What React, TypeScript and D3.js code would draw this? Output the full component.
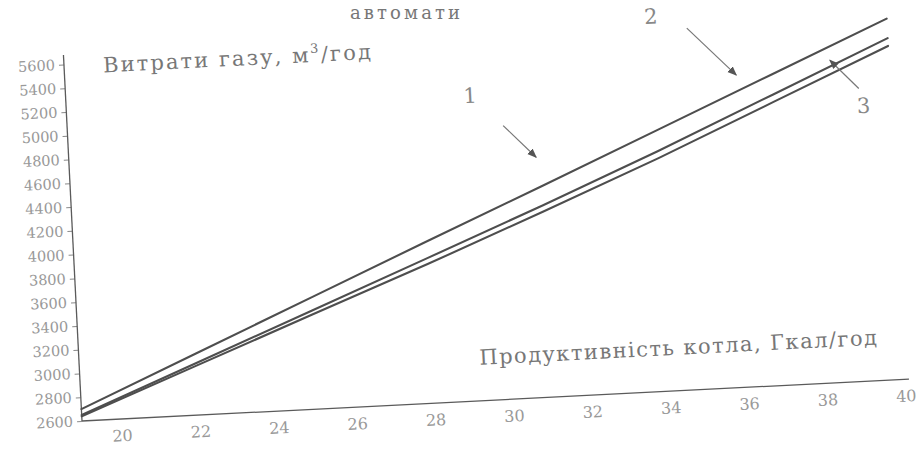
import React, { useEffect, useRef } from 'react';
import * as d3 from 'd3';

// boiler output, Gcal/h
const capacity = [19, 22, 25, 28, 31, 34, 37, 40];
// gas flow, m3/h (three curves top to bottom)
const gasUpper = [2700, 3120, 3540, 3960, 4375, 4795, 5215, 5635];
const gasMiddle = [2650, 3040, 3430, 3820, 4213, 4619, 5045, 5471];
const gasLower = [2640, 3018, 3396, 3770, 4160, 4559, 4982, 5405];

const xTicks = [20, 22, 24, 26, 28, 30, 32, 34, 36, 38, 40];
const yTicks = [2600, 2800, 3000, 3200, 3400, 3600, 3800, 4000, 4200, 4400, 4600, 4800, 5000, 5200, 5400, 5600];

// numbered callouts with arrows, in data units
const calloutNames = ['1', '2', '3'];
const calloutLabelX = [29.3, 34.0, 39.3];
const calloutLabelY = [5150, 5740, 4900];
const calloutFromX = [30.1, 34.9, 39.2];
const calloutFromY = [4900, 5640, 5060];
const calloutToX = [30.9, 36.1, 38.5];
const calloutToY = [4620, 5225, 5310];

const topCaption = 'автомати';
const yTitle = 'Витрати газу, м';
const xTitle = 'Продуктивність котла, Гкал/год';

const FONT = "'DejaVu Serif', 'Liberation Serif', serif";

const GasChart = () => {
    const svgRef = useRef<SVGSVGElement>(null);

    useEffect(() => {
        if (!svgRef.current) return;
        const svg = d3.select(svgRef.current);
        svg.selectAll('*').remove();

        const width = 920;
        const height = 451;
        const plotW = 824;
        const plotH = 357;

        svg.append('rect').attr('width', width).attr('height', height).attr('fill', '#fff');

        // the scanned sheet is a little tilted
        const g = svg.append('g').attr('transform', 'translate(82, 421) rotate(-2.9)');

        const x = d3.scaleLinear().domain([19, 40]).range([0, plotW]);
        const y = d3.scaleLinear().domain([2600, 5600]).range([0, -plotH]);

        const ink = '#5a5a5a';
        const faint = '#8a8a8a';

        // axes
        const yAxis = g.append('g')
            .call(d3.axisLeft(y).tickValues(yTicks).tickSize(5).tickSizeOuter(0).tickPadding(4).tickFormat(d3.format('d')));
        yAxis.select('.domain').remove();
        yAxis.selectAll('line').attr('stroke', faint).attr('stroke-width', 1);
        yAxis.selectAll('text')
            .attr('fill', '#999')
            .attr('font-family', FONT)
            .attr('font-size', '14.5px');

        g.append('line')
            .attr('x1', 0).attr('x2', 0)
            .attr('y1', y(2600)).attr('y2', y(5680))
            .attr('stroke', ink).attr('stroke-width', 1.3);

        const xAxis = g.append('g')
            .call(d3.axisBottom(x).tickValues(xTicks).tickSize(0).tickPadding(11));
        xAxis.select('.domain').remove();
        xAxis.selectAll('text')
            .attr('fill', '#999')
            .attr('font-family', FONT)
            .attr('font-size', '16px');

        g.append('line')
            .attr('x1', 0).attr('x2', x(40) + 4)
            .attr('y1', 0).attr('y2', 0)
            .attr('stroke', ink).attr('stroke-width', 1.3);

        // curves
        const line = d3.line<number>()
            .x((_, i) => x(capacity[i]))
            .y(d => y(d));

        [gasUpper, gasMiddle, gasLower].forEach(series => {
            g.append('path')
                .attr('d', line(series))
                .attr('fill', 'none')
                .attr('stroke', '#4e4e4e')
                .attr('stroke-width', 2.1)
                .attr('stroke-linecap', 'round');
        });

        // titles
        const yt = g.append('text')
            .attr('x', 39)
            .attr('y', -347)
            .attr('fill', '#777')
            .attr('font-family', FONT)
            .attr('font-size', '21px')
            .attr('textLength', 268)
            .attr('lengthAdjust', 'spacing')
            .text(yTitle);
        yt.append('tspan').attr('font-size', '13px').attr('dy', -9).text('3');
        yt.append('tspan').attr('dy', 9).text('/год');

        g.append('text')
            .attr('x', x(40) - 424)
            .attr('y', -36)
            .attr('fill', '#777')
            .attr('font-family', FONT)
            .attr('font-size', '21px')
            .attr('textLength', 398)
            .attr('lengthAdjust', 'spacing')
            .text(xTitle);

        svg.append('text')
            .attr('x', 350)
            .attr('y', 19)
            .attr('fill', '#777')
            .attr('font-family', FONT)
            .attr('font-size', '18px')
            .attr('textLength', 110)
            .attr('lengthAdjust', 'spacing')
            .text(topCaption);

        // callouts
        const defs = svg.append('defs');
        defs.append('marker')
            .attr('id', 'head')
            .attr('viewBox', '0 0 10 10')
            .attr('refX', 9).attr('refY', 5)
            .attr('markerWidth', 8).attr('markerHeight', 8)
            .attr('orient', 'auto')
            .append('path')
            .attr('d', 'M0,1 L10,5 L0,9 Z')
            .attr('fill', '#555');

        calloutNames.forEach((name, i) => {
            g.append('line')
                .attr('x1', x(calloutFromX[i])).attr('y1', y(calloutFromY[i]))
                .attr('x2', x(calloutToX[i])).attr('y2', y(calloutToY[i]))
                .attr('stroke', '#777')
                .attr('stroke-width', 1.2)
                .attr('marker-end', 'url(#head)');
            g.append('text')
                .attr('x', x(calloutLabelX[i]))
                .attr('y', y(calloutLabelY[i]))
                .attr('text-anchor', 'middle')
                .attr('dominant-baseline', 'middle')
                .attr('fill', '#888')
                .attr('font-family', FONT)
                .attr('font-size', '21px')
                .text(name);
        });
    }, []);

    return <svg ref={svgRef} width={920} height={451} style={{ display: 'block' }} />;
};

export default function App() {
    return (
        <div>
            <style>{'body { margin: 0; }'}</style>
            <GasChart />
        </div>
    );
}
